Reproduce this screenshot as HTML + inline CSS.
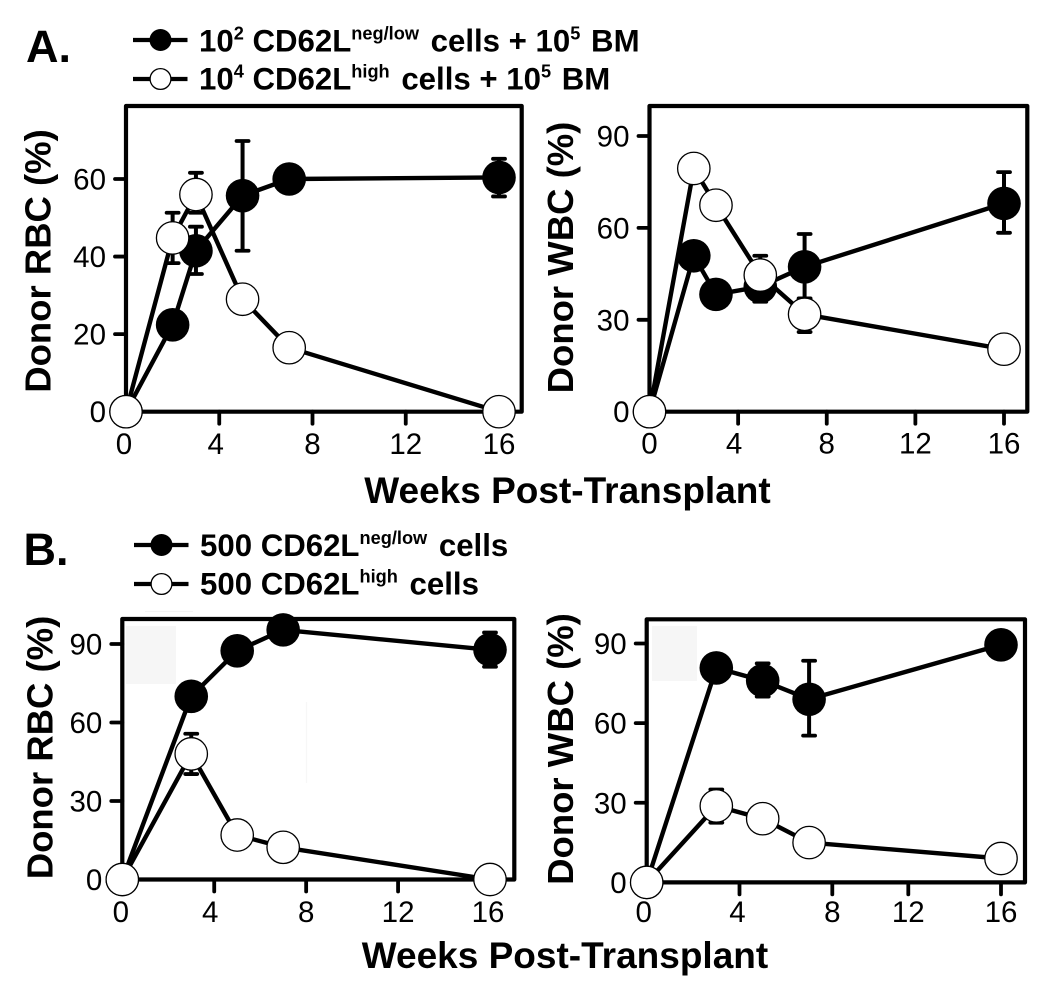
<!DOCTYPE html>
<html lang="en">
<head>
<meta charset="utf-8">
<title>Donor RBC and WBC chimerism</title>
<style>
html,body{margin:0;padding:0;background:#fff;width:1050px;height:995px;overflow:hidden}
svg{display:block;position:absolute;left:0;top:0}
text{font-family:"Liberation Sans",sans-serif;fill:#000}
.leg{font-weight:bold;font-size:31.2px}
.sup{font-size:18.2px}
.tick{font-size:29.5px}
.ytitle{font-weight:bold;font-size:36.5px}
.xtitle{font-weight:bold;font-size:37px}
.letter{font-weight:bold;font-size:45px}
</style>
</head>
<body>
<svg id="fig" width="1050" height="995" viewBox="0 0 1050 995" xmlns="http://www.w3.org/2000/svg">
  <rect x="126" y="626" width="50" height="58" fill="#f6f6f6"/>
  <rect x="652" y="626" width="45" height="55" fill="#f6f6f6"/>
  <line x1="145" x2="193" y1="611.5" y2="611.5" stroke="#f4f4f4" stroke-width="1"/>
  <line x1="306.5" x2="306.5" y1="702" y2="783" stroke="#f7f7f7" stroke-width="1.2"/>

  <text class="letter" x="26" y="62">A.</text>
  <text class="letter" x="23.5" y="565">B.</text>

  <g>
    <g>
      <line x1="133" x2="187.5" y1="40" y2="40" stroke="#000" stroke-width="4.2"/>
      <circle cx="160.5" cy="40" r="11" fill="#000"/>
      <text class="leg" x="199" y="51.5">10<tspan class="sup" dy="-12">2</tspan><tspan dy="12"> CD62L</tspan><tspan class="sup" dy="-12">neg/low</tspan><tspan dy="12" dx="3"> cells + 10</tspan><tspan class="sup" dy="-12">5</tspan><tspan dy="12" dx="2"> BM</tspan></text>
    </g>
    <g>
      <line x1="133" x2="187.5" y1="79" y2="79" stroke="#000" stroke-width="4.2"/>
      <circle cx="160.5" cy="79" r="10.4" fill="#fff" stroke="#000" stroke-width="1.3"/>
      <text class="leg" x="199" y="89.5">10<tspan class="sup" dy="-12">4</tspan><tspan dy="12"> CD62L</tspan><tspan class="sup" dy="-12">high</tspan><tspan dy="12" dx="3"> cells + 10</tspan><tspan class="sup" dy="-12">5</tspan><tspan dy="12" dx="2"> BM</tspan></text>
    </g>
  </g>

  <g>
    <g>
      <line x1="134" x2="188.5" y1="545" y2="545" stroke="#000" stroke-width="4.2"/>
      <circle cx="161.5" cy="545" r="11" fill="#000"/>
      <text class="leg" x="200" y="556">500 CD62L<tspan class="sup" dy="-12">neg/low</tspan><tspan dy="12" dx="3"> cells</tspan></text>
    </g>
    <g>
      <line x1="134" x2="188.5" y1="584" y2="584" stroke="#000" stroke-width="4.2"/>
      <circle cx="161.5" cy="584" r="10.4" fill="#fff" stroke="#000" stroke-width="1.3"/>
      <text class="leg" x="200" y="594.5">500 CD62L<tspan class="sup" dy="-12">high</tspan><tspan dy="12" dx="3"> cells</tspan></text>
    </g>
  </g>

  <text class="xtitle" x="567.5" y="503" text-anchor="middle">Weeks Post-Transplant</text>
  <text class="xtitle" x="565" y="968" text-anchor="middle">Weeks Post-Transplant</text>
</svg>

<script>
// Shared categories and tick labels
const weeksA = [0, 2, 3, 5, 7, 16];
const weeksB = [0, 3, 5, 7, 16];
const xTickValues = [0, 4, 8, 12, 16];
const yTicksRbcA = [0, 20, 40, 60];
const yTicks90 = [0, 30, 60, 90];

// Panel A, donor RBC
const aRbcNeg = [0, 22.4, 41.5, 55.7, 60, 60.4];
const aRbcNegUpper = [null, null, 47.7, 69.8, null, 65.2];
const aRbcNegLower = [null, null, 35.5, 41.5, null, 55.5];
const aRbcHigh = [0, 44.8, 56, 29, 16.5, 0];
const aRbcHighUpper = [null, 51.3, 61.6, null, null, null];
const aRbcHighLower = [null, 38.3, 51.3, null, null, null];

// Panel A, donor WBC
const aWbcNeg = [0, 50.9, 38.3, 40.8, 47.3, 68];
const aWbcNegUpper = [null, null, null, 45.6, 58, 78.2];
const aWbcNegLower = [null, null, null, 35.9, 36.6, 58.4];
const aWbcHigh = [0, 79.4, 67.4, 44.6, 31.8, 20.4];
const aWbcHighUpper = [null, null, null, 50.9, 37, null];
const aWbcHighLower = [null, null, null, 38, 26, null];

// Panel B, donor RBC
const bRbcNeg = [0, 70, 87.4, 95.4, 87.8];
const bRbcNegUpper = [null, null, null, null, 94.4];
const bRbcNegLower = [null, null, null, null, 81.3];
const bRbcHigh = [0, 48, 17, 12.3, 0];
const bRbcHighUpper = [null, 55.7, null, null, null];
const bRbcHighLower = [null, 40.3, null, null, null];

// Panel B, donor WBC
const bWbcNeg = [0, 80.8, 76, 69, 89.5];
const bWbcNegUpper = [null, null, 82.5, 83.5, null];
const bWbcNegLower = [null, null, 70, 55.3, null];
const bWbcHigh = [0, 28.8, 24, 15, 9];
const bWbcHighUpper = [null, 35, null, null, null];
const bWbcHighLower = [null, 22.5, null, null, null];

const SVG_NS = 'http://www.w3.org/2000/svg';
const root = document.getElementById('fig');

function make(parent, tag, attrs, name) {
  const el = document.createElementNS(SVG_NS, tag);
  for (const k in attrs) el.setAttribute(k, attrs[k]);
  
  
  parent.appendChild(el);
  return el;
}

function piecewise(domain, range) {
  return function (v) {
    let i = 0;
    while (i < domain.length - 2 && v > domain[i + 1]) i++;
    const t = (v - domain[i]) / (domain[i + 1] - domain[i]);
    return range[i] + t * (range[i + 1] - range[i]);
  };
}

function drawSeries(group, name, sx, sy, xs, ys, upper, lower, filled, r) {
  const g = make(group, 'g', {}, name + '-series');
  const pts = xs.map(function (w, i) { return sx(w).toFixed(1) + ',' + sy(ys[i]).toFixed(1); }).join(' ');
  make(g, 'polyline', { points: pts, fill: 'none', stroke: '#000', 'stroke-width': 4.4, 'stroke-linejoin': 'round' }, name + '-line');
  xs.forEach(function (w, i) {
    if (upper[i] === null) return;
    const x = sx(w);
    make(g, 'line', { x1: x, x2: x, y1: sy(upper[i]), y2: sy(lower[i]), stroke: '#000', 'stroke-width': 4 }, name + '-error-bar-week-' + w);
    make(g, 'line', { x1: x - 6, x2: x + 6, y1: sy(upper[i]), y2: sy(upper[i]), stroke: '#000', 'stroke-width': 3.8, 'stroke-linecap': 'round' }, name + '-error-cap-upper-week-' + w);
    make(g, 'line', { x1: x - 6, x2: x + 6, y1: sy(lower[i]), y2: sy(lower[i]), stroke: '#000', 'stroke-width': 3.8, 'stroke-linecap': 'round' }, name + '-error-cap-lower-week-' + w);
  });
  xs.forEach(function (w, i) {
    make(g, 'circle', {
      cx: sx(w), cy: sy(ys[i]), r: filled ? r : r - 0.6,
      fill: filled ? '#000' : '#fff', stroke: '#000', 'stroke-width': filled ? 0 : 1.3
    }, name + '-point-week-' + w);
  });
}

function drawPanel(p) {
  const g = make(root, 'g', {}, p.name);
  const sx = piecewise(p.xDomain, p.xRange);
  const sy = piecewise([0, p.yRef], [p.yBottom, p.yRefPx]);

  make(g, 'rect', {
    x: p.left, y: p.top, width: p.right - p.left, height: p.yBottom - p.top,
    fill: 'none', stroke: '#000', 'stroke-width': 4.2, 'stroke-linejoin': 'round'
  }, p.name + '-frame');

  const xAxis = make(g, 'g', {}, p.name + '-x-axis');
  xTickValues.forEach(function (t, i) {
    const x = sx(t);
    if (t !== 0) {
      make(xAxis, 'line', { x1: x, x2: x, y1: p.yBottom, y2: p.yBottom + 12, stroke: '#000', 'stroke-width': 3.8, 'stroke-linecap': 'round' }, p.name + '-x-tick-' + t);
    }
    const lab = make(xAxis, 'text', { x: x + p.xLabelNudge[i], y: p.xLabelBase, 'text-anchor': 'middle', class: 'tick' }, p.name + '-x-label-' + t);
    lab.textContent = t;
  });

  const yAxis = make(g, 'g', {}, p.name + '-y-axis');
  p.yTicks.forEach(function (t) {
    const y = sy(t);
    if (t !== 0) {
      make(yAxis, 'line', { x1: p.left - 11, x2: p.left, y1: y, y2: y, stroke: '#000', 'stroke-width': 3.8, 'stroke-linecap': 'round' }, p.name + '-y-tick-' + t);
    }
    const lab = make(yAxis, 'text', { x: p.left - 20, y: y + 10.5, 'text-anchor': 'end', class: 'tick' }, p.name + '-y-label-' + t);
    lab.textContent = t;
  });

  const title = make(g, 'text', {
    x: 0, y: 0, 'text-anchor': 'middle', class: 'ytitle',
    transform: 'translate(' + p.titleX + ',' + p.titleY + ') rotate(-90)'
  }, p.name + '-y-axis-title');
  title.textContent = p.title;

  drawSeries(g, p.name + '-neg', sx, sy, p.weeks, p.neg, p.negUp, p.negLo, true, 16.8);
  drawSeries(g, p.name + '-high', sx, sy, p.weeks, p.high, p.highUp, p.highLo, false, 16.8);
}

drawPanel({
  name: 'panel-a-rbc', title: 'Donor RBC (%)', weeks: weeksA, yTicks: yTicksRbcA,
  neg: aRbcNeg, negUp: aRbcNegUpper, negLo: aRbcNegLower,
  high: aRbcHigh, highUp: aRbcHighUpper, highLo: aRbcHighLower,
  left: 126, right: 521.7, top: 106, yBottom: 411.7, yRef: 60, yRefPx: 179,
  xDomain: [0, 16], xRange: [126, 499], xLabelBase: 454, xLabelNudge: [-2, -3.5, 0, 0, 0],
  titleX: 50.7, titleY: 261
});
drawPanel({
  name: 'panel-a-wbc', title: 'Donor WBC (%)', weeks: weeksA, yTicks: yTicks90,
  neg: aWbcNeg, negUp: aWbcNegUpper, negLo: aWbcNegLower,
  high: aWbcHigh, highUp: aWbcHighUpper, highLo: aWbcHighLower,
  left: 649.5, right: 1027.3, top: 106, yBottom: 411.7, yRef: 90, yRefPx: 136,
  xDomain: [0, 16], xRange: [649.5, 1004], xLabelBase: 453.5, xLabelNudge: [0, -4, 0, 0, 0],
  titleX: 573, titleY: 257.5
});
drawPanel({
  name: 'panel-b-rbc', title: 'Donor RBC (%)', weeks: weeksB, yTicks: yTicks90,
  neg: bRbcNeg, negUp: bRbcNegUpper, negLo: bRbcNegLower,
  high: bRbcHigh, highUp: bRbcHighUpper, highLo: bRbcHighLower,
  left: 122.3, right: 514.3, top: 619, yBottom: 879.5, yRef: 90, yRefPx: 644,
  xDomain: [0, 16], xRange: [122.3, 490], xLabelBase: 922, xLabelNudge: [-1.5, -4, 0, 0, -2],
  titleX: 52.4, titleY: 747.5
});
drawPanel({
  name: 'panel-b-wbc', title: 'Donor WBC (%)', weeks: weeksB, yTicks: yTicks90,
  neg: bWbcNeg, negUp: bWbcNegUpper, negLo: bWbcNegLower,
  high: bWbcHigh, highUp: bWbcHighUpper, highLo: bWbcHighLower,
  left: 646.7, right: 1025, top: 619.3, yBottom: 882.4, yRef: 90, yRefPx: 643.5,
  xDomain: [0, 8, 12, 16], xRange: [646.7, 832.3, 908.3, 1001], xLabelBase: 922, xLabelNudge: [-3, -2, 0, 0, 0],
  titleX: 573, titleY: 749
});
</script>
</body>
</html>
